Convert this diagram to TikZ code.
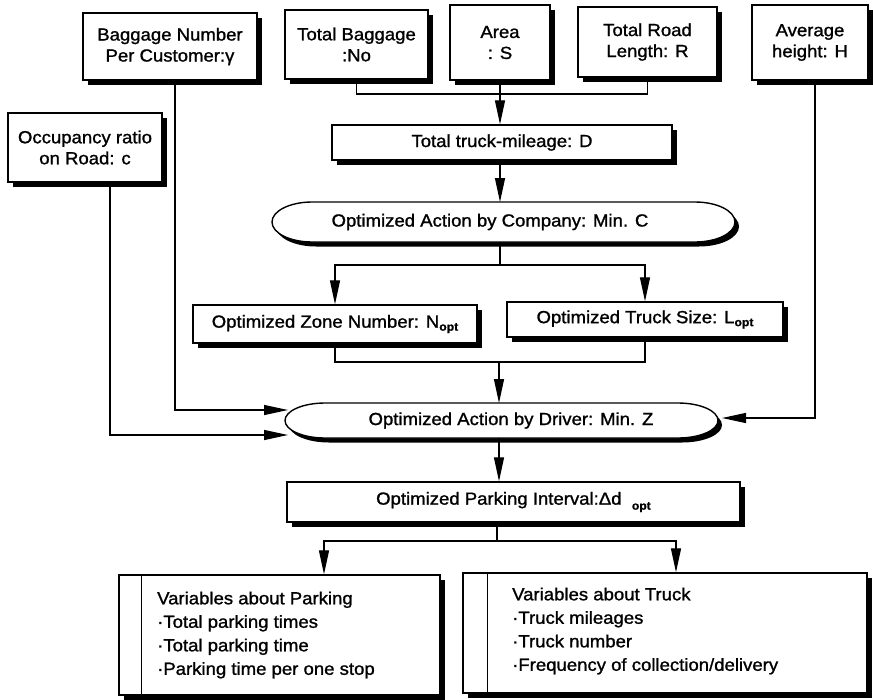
\documentclass[tikz,border=0pt]{standalone}
\usepackage{fontspec}
\setmainfont{Liberation Sans}[FakeStretch=1.06,FakeBold=1.2]
\usetikzlibrary{arrows.meta,shadows,calc}
\newcommand{\myoval}[2]{%
  \fill[black] ([shift={(44pt,-4.5pt)}]#1.north west) -- ([shift={(-36pt,-4.5pt)}]#1.north east)
    arc[start angle=90,end angle=-90,x radius=40pt,y radius=#2]
    -- ([shift={(44pt,-4.5pt)}]#1.south west)
    arc[start angle=270,end angle=90,x radius=40pt,y radius=#2] -- cycle;
  \draw[line width=1.4pt,fill=white] ([xshift=40pt]#1.north west) -- ([xshift=-40pt]#1.north east)
    arc[start angle=90,end angle=-90,x radius=40pt,y radius=#2]
    -- ([xshift=40pt]#1.south west)
    arc[start angle=270,end angle=90,x radius=40pt,y radius=#2] -- cycle;}
\newcommand{\subopt}[1]{\raisebox{#1}{\fontsize{11.5}{11.5}\selectfont\bfseries opt}}
\begin{document}
\begin{tikzpicture}[x=1pt,y=-1pt,
  every node/.style={font=\fontsize{17.5}{21}\selectfont, inner sep=0pt},
  box/.style={draw, line width=1.4pt, fill=white, align=center,
    drop shadow={shadow xshift=4.5pt,shadow yshift=-4.5pt,fill=black,opacity=1}},
  ovalnode/.style={inner sep=0pt, outer sep=0pt},
  conn/.style={line width=1.3pt},
  arr/.style={line width=1.3pt, -{Triangle[length=24pt,width=10pt]}}]
\useasboundingbox[fill=white] (0,0) rectangle (873,699);

% top row
\node[box, minimum width=174pt, minimum height=67pt] (bn) at (170,46.5) {Baggage Number\\Per Customer:γ};
\node[box, minimum width=143pt, minimum height=69pt] (tb) at (356.5,44.5) {Total Baggage\\:No};
\node[box, minimum width=100pt, minimum height=75pt] (ar) at (500,42.5) {Area\\: S};
\node[box, minimum width=139pt, minimum height=70pt] (tr) at (647.5,42) {Total Road\\Length: R};
\node[box, minimum width=116pt, minimum height=75pt] (ah) at (810,42.5) {Average\\height: H};
\node[box, minimum width=154pt, minimum height=69pt] (oc) at (85,147.5) {Occupancy ratio\\on Road: c};
\node[box, minimum width=340pt, minimum height=35pt] (tm) at (502,142.5) {Total truck-mileage: D};

% company oval
\node[ovalnode, minimum width=463pt, minimum height=40pt] (comp) at (503.5,222) {};
\myoval{comp}{20pt}
\node (compt) at (490,222) {Optimized Action by Company: Min. C};

\node[box, minimum width=284pt, minimum height=38pt] (zn) at (335,324) {Optimized Zone Number: N\subopt{-3pt}};
\node[box, minimum width=276pt, minimum height=35pt] (ts) at (645,319.5) {Optimized Truck Size: L\subopt{-3pt}};

% driver oval
\node[ovalnode, minimum width=433pt, minimum height=35pt] (drv) at (501.5,420.5) {};
\myoval{drv}{17.5pt}
\node (drvt) at (511,420.5) {Optimized Action by Driver: Min. Z};

\node[box, minimum width=453pt, minimum height=40pt] (pi) at (513.5,502) {Optimized Parking Interval:Δd\ \ \subopt{-5pt}};

% bottom boxes
\node[box, minimum width=321pt, minimum height=120pt] (vp) at (279.5,635) {};
\draw[line width=1.4pt] ([xshift=23pt]vp.north west) -- ([xshift=23pt]vp.south west);
\node[anchor=west, align=left, font=\fontsize{17.5}{23.5}\selectfont] (vpt) at (157,635)
  {Variables about Parking\\·Total parking times\\·Total parking time\\·Parking time per one stop};
\node[box, minimum width=404pt, minimum height=120pt] (vt) at (665,633) {};
\draw[line width=1.4pt] ([xshift=25pt]vt.north west) -- ([xshift=25pt]vt.south west);
\node[anchor=west, align=left, font=\fontsize{17.5}{23.5}\selectfont] (vtt) at (512,631)
  {Variables about Truck\\·Truck mileages\\·Truck number\\·Frequency of collection/delivery};

% connectors
\coordinate (j1) at (500,94);
\draw[conn] (tb.south) |- (j1);
\draw[conn] (tr.south) |- (j1);
\draw[arr] (ar.south) -- (ar.south |- tm.north);
\draw[arr] (tm.south -| ar.south) -- (comp.north -| ar.south);
\coordinate (j2) at (500,265);
\draw[conn] (comp.south -| j2) -- (j2);
\draw[arr] (j2) -| (zn.north);
\draw[arr] (j2) -| (ts.north);
\coordinate (j3) at (499,362);
\draw[conn] (zn.south) |- (j3);
\draw[conn] (ts.south) |- (j3);
\draw[arr] (j3) -- (j3 |- drv.north);
\coordinate (d1) at (288,410);
\coordinate (d2) at (288,435);
\coordinate (d3) at (722,418);
\draw[arr] ([xshift=5pt]bn.south) |- (d1);
\draw[arr] ([xshift=25pt]oc.south) |- (d2);
\draw[arr] ([xshift=5pt]ah.south) |- (d3);
\draw[arr] (drv.south -| j3) -- (pi.north -| j3);
\coordinate (j4) at (497,541);
\draw[conn] (pi.south -| j4) -- (j4);
\draw[arr] (j4) -| ([xshift=44.5pt]vp.north);
\draw[arr] (j4) -| ([xshift=11pt]vt.north);
\end{tikzpicture}
\end{document}
